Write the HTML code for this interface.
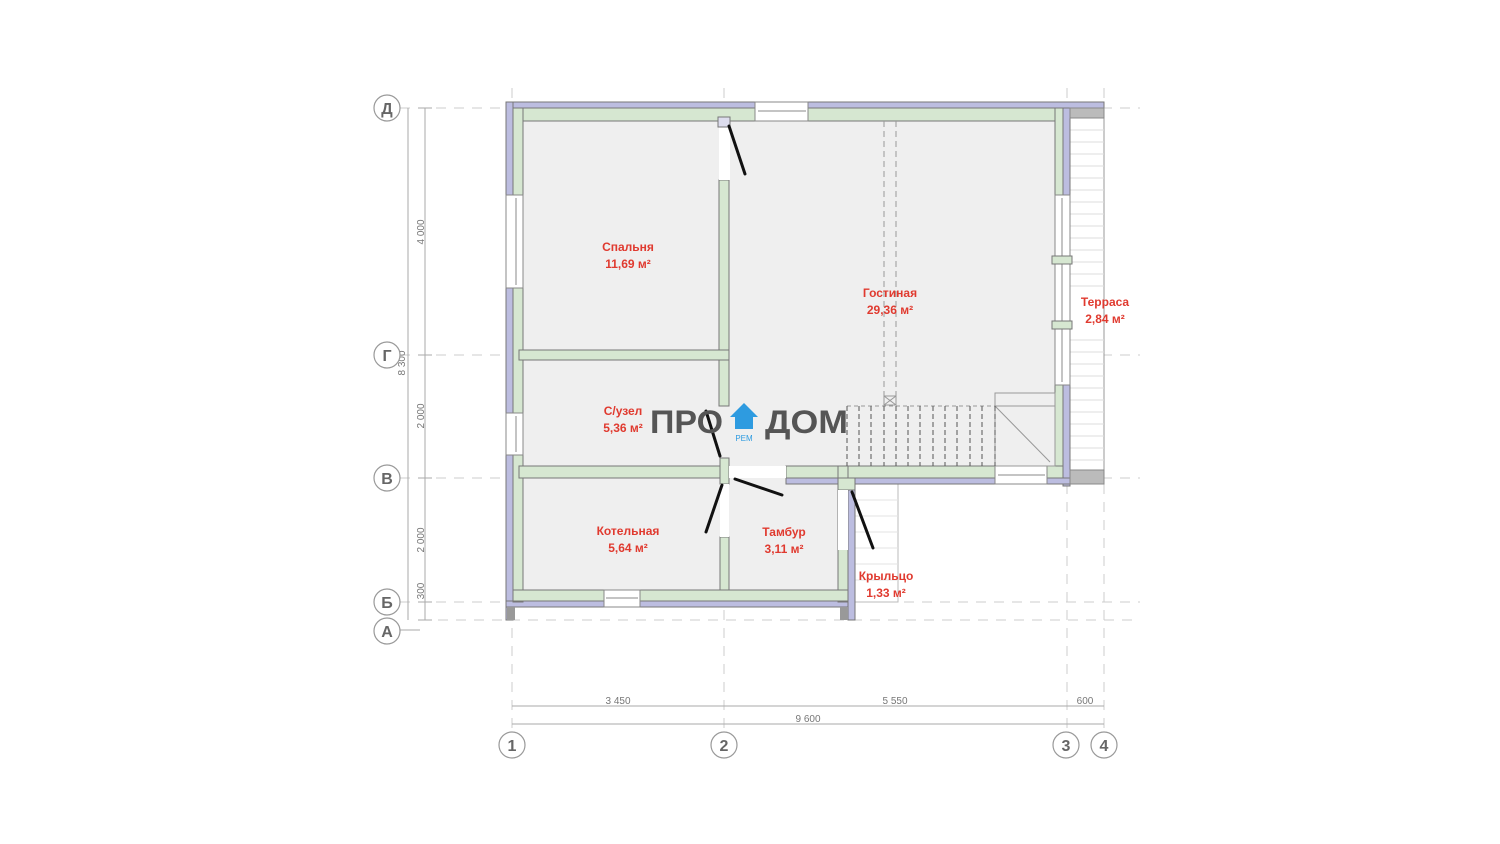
<!DOCTYPE html>
<html><head><meta charset="utf-8"><style>
html,body{margin:0;padding:0;background:#fff;}
svg{display:block;font-family:"Liberation Sans",sans-serif;}
.lbl{fill:#e03a2f;font-weight:bold;font-size:12px;text-anchor:middle;}
.dim{fill:#777;font-size:10px;text-anchor:middle;}
.ax{fill:#fff;stroke:#999;stroke-width:1.2;}
.axt{fill:#666;font-size:16px;font-weight:bold;text-anchor:middle;}
.g{fill:#d6e7d1;stroke:#777;stroke-width:1;}
.p{fill:#bcbde0;stroke:#777;stroke-width:1;}
.win{fill:#fff;stroke:#888;stroke-width:1;}
</style></head><body>
<svg width="1500" height="844" viewBox="0 0 1500 844" xmlns="http://www.w3.org/2000/svg">
<g stroke="#ccc" stroke-width="1" stroke-dasharray="10,8" fill="none">
<line x1="400" y1="108" x2="1140" y2="108"/>
<line x1="400" y1="355" x2="1140" y2="355"/>
<line x1="400" y1="478" x2="1140" y2="478"/>
<line x1="400" y1="602" x2="1140" y2="602"/>
<line x1="420" y1="620" x2="1140" y2="620"/>
<line x1="512" y1="88" x2="512" y2="735"/>
<line x1="724" y1="88" x2="724" y2="735"/>
<line x1="1067" y1="88" x2="1067" y2="735"/>
<line x1="1104" y1="88" x2="1104" y2="735"/>
</g>
<rect x="512" y="108" width="555" height="370" fill="#efefef"/>
<rect x="512" y="478" width="330" height="124" fill="#efefef"/>
<rect x="1070" y="118" width="34" height="360" fill="#fff" stroke="#999"/>
<g stroke="#ddd" stroke-width="1">
<line x1="1070" y1="130" x2="1104" y2="130"/><line x1="1070" y1="142" x2="1104" y2="142"/><line x1="1070" y1="154" x2="1104" y2="154"/><line x1="1070" y1="166" x2="1104" y2="166"/><line x1="1070" y1="178" x2="1104" y2="178"/><line x1="1070" y1="190" x2="1104" y2="190"/><line x1="1070" y1="202" x2="1104" y2="202"/><line x1="1070" y1="214" x2="1104" y2="214"/><line x1="1070" y1="226" x2="1104" y2="226"/><line x1="1070" y1="238" x2="1104" y2="238"/><line x1="1070" y1="250" x2="1104" y2="250"/><line x1="1070" y1="262" x2="1104" y2="262"/><line x1="1070" y1="274" x2="1104" y2="274"/><line x1="1070" y1="286" x2="1104" y2="286"/><line x1="1070" y1="340" x2="1104" y2="340"/><line x1="1070" y1="352" x2="1104" y2="352"/><line x1="1070" y1="364" x2="1104" y2="364"/><line x1="1070" y1="376" x2="1104" y2="376"/><line x1="1070" y1="388" x2="1104" y2="388"/><line x1="1070" y1="400" x2="1104" y2="400"/><line x1="1070" y1="412" x2="1104" y2="412"/><line x1="1070" y1="424" x2="1104" y2="424"/><line x1="1070" y1="436" x2="1104" y2="436"/><line x1="1070" y1="448" x2="1104" y2="448"/><line x1="1070" y1="460" x2="1104" y2="460"/>
</g>
<rect x="855" y="484" width="43" height="118" fill="#fff" stroke="#bbb"/>
<g stroke="#e3e3e3"><line x1="855" y1="500" x2="898" y2="500"/><line x1="855" y1="516" x2="898" y2="516"/><line x1="855" y1="532" x2="898" y2="532"/><line x1="855" y1="548" x2="898" y2="548"/><line x1="855" y1="564" x2="898" y2="564"/><line x1="855" y1="580" x2="898" y2="580"/></g>
<rect class="p" x="506" y="102" width="598" height="6"/>
<rect class="p" x="506" y="102" width="7" height="518"/>
<rect class="p" x="1063" y="108" width="7" height="378"/>
<rect class="p" x="786" y="478" width="318" height="6"/>
<rect class="p" x="506" y="601" width="349" height="6"/>
<rect class="p" x="848" y="484" width="7" height="136"/>
<rect x="1070" y="108" width="34" height="10" fill="#bbb" stroke="#888"/>
<rect x="1070" y="470" width="34" height="14" fill="#bbb" stroke="#888"/>
<rect class="g" x="513" y="108" width="550" height="13"/>
<rect class="g" x="513" y="108" width="10" height="494"/>
<rect class="g" x="1055" y="108" width="8" height="370"/>
<rect class="g" x="786" y="466" width="277" height="12"/>
<rect class="g" x="838" y="466" width="10" height="136"/>
<rect class="g" x="513" y="590" width="335" height="11"/>
<rect x="507" y="607" width="8" height="13" fill="#999"/>
<rect x="840" y="607" width="8" height="13" fill="#999"/>
<rect class="g" x="719" y="180" width="10" height="226"/>
<rect class="g" x="519" y="350" width="210" height="10"/>
<rect class="g" x="519" y="466" width="210" height="12"/>
<rect class="g" x="720" y="537" width="9" height="53"/>
<rect class="g" x="720" y="458" width="9" height="26"/>
<rect class="g" x="838" y="478" width="17" height="12"/>
<rect class="win" x="755" y="102" width="53" height="19"/>
<line x1="758" y1="111" x2="806" y2="111" stroke="#888"/>
<rect class="win" x="506" y="195" width="17" height="93"/>
<line x1="516" y1="198" x2="516" y2="285" stroke="#888"/>
<rect class="win" x="506" y="413" width="17" height="42"/>
<line x1="516" y1="416" x2="516" y2="452" stroke="#888"/>
<rect class="win" x="1055" y="195" width="15" height="190"/>
<line x1="1062" y1="198" x2="1062" y2="382" stroke="#888"/>
<rect class="g" x="1052" y="256" width="20" height="8"/>
<rect class="g" x="1052" y="321" width="20" height="8"/>
<rect class="win" x="604" y="590" width="36" height="17"/>
<line x1="606" y1="598" x2="638" y2="598" stroke="#888"/>
<rect class="win" x="995" y="466" width="52" height="18"/>
<line x1="998" y1="475" x2="1045" y2="475" stroke="#888"/>
<rect x="719" y="121" width="11" height="59" fill="#fff"/>
<rect x="718" y="117" width="12" height="10" fill="#dde" stroke="#777"/>
<rect x="729" y="466" width="57" height="12" fill="#fff"/>
<rect x="720" y="484" width="9" height="53" fill="#fff"/>
<rect x="838" y="490" width="10" height="60" fill="#fff"/>
<g stroke="#111" stroke-width="3" stroke-linecap="round">
<line x1="729" y1="126" x2="745" y2="174"/>
<line x1="706" y1="411" x2="720" y2="456"/>
<line x1="735" y1="479" x2="782" y2="495"/>
<line x1="722" y1="485" x2="706" y2="532"/>
<line x1="852" y1="492" x2="873" y2="548"/>
</g>
<g stroke="#999" stroke-width="1" fill="none">
<line x1="884" y1="121" x2="884" y2="405" stroke-dasharray="6,4"/>
<line x1="896" y1="121" x2="896" y2="405" stroke-dasharray="6,4"/>
<rect x="884" y="396" width="12" height="9"/>
<line x1="884" y1="396" x2="896" y2="405"/><line x1="896" y1="396" x2="884" y2="405"/>
<line x1="847" y1="406" x2="995" y2="406" stroke-dasharray="4,3"/>
<rect x="995" y="393" width="60" height="73"/>
<line x1="995" y1="406" x2="1055" y2="406"/>
<line x1="995" y1="406" x2="1050" y2="462"/>
</g>
<g stroke="#555" stroke-width="1" stroke-dasharray="5,3">
<line x1="847" y1="406" x2="847" y2="466"/><line x1="859" y1="406" x2="859" y2="466"/><line x1="871" y1="406" x2="871" y2="466"/><line x1="884" y1="406" x2="884" y2="466"/><line x1="896" y1="406" x2="896" y2="466"/><line x1="908" y1="406" x2="908" y2="466"/><line x1="920" y1="406" x2="920" y2="466"/><line x1="933" y1="406" x2="933" y2="466"/><line x1="945" y1="406" x2="945" y2="466"/><line x1="957" y1="406" x2="957" y2="466"/><line x1="970" y1="406" x2="970" y2="466"/><line x1="982" y1="406" x2="982" y2="466"/><line x1="995" y1="406" x2="995" y2="466"/>
</g>
<text x="650" y="433" font-size="32" font-weight="bold" fill="#555" textLength="73" lengthAdjust="spacingAndGlyphs">ПРО</text>
<text x="765" y="433" font-size="32" font-weight="bold" fill="#555" textLength="83" lengthAdjust="spacingAndGlyphs">ДОМ</text>
<polygon points="744,403 730,417 735,417 735,429 753,429 753,417 758,417" fill="#2e9be0"/>
<text x="744" y="441" font-size="8" fill="#2e9be0" text-anchor="middle">РЕМ</text>
<text class="lbl" x="628" y="251">Спальня</text><text class="lbl" x="628" y="268">11,69 м²</text>
<text class="lbl" x="890" y="297">Гостиная</text><text class="lbl" x="890" y="314">29,36 м²</text>
<text class="lbl" x="1105" y="306">Терраса</text><text class="lbl" x="1105" y="323">2,84 м²</text>
<text class="lbl" x="623" y="415">С/узел</text><text class="lbl" x="623" y="432">5,36 м²</text>
<text class="lbl" x="628" y="535">Котельная</text><text class="lbl" x="628" y="552">5,64 м²</text>
<text class="lbl" x="784" y="536">Тамбур</text><text class="lbl" x="784" y="553">3,11 м²</text>
<text class="lbl" x="886" y="580">Крыльцо</text><text class="lbl" x="886" y="597">1,33 м²</text>
<g stroke="#aaa" stroke-width="1" fill="none">
<line x1="425" y1="108" x2="425" y2="620"/>
<line x1="408" y1="108" x2="408" y2="620"/>
<line x1="418" y1="108" x2="432" y2="108"/><line x1="418" y1="355" x2="432" y2="355"/><line x1="418" y1="478" x2="432" y2="478"/><line x1="418" y1="602" x2="432" y2="602"/><line x1="418" y1="620" x2="432" y2="620"/>
<line x1="512" y1="706" x2="1104" y2="706"/>
<line x1="512" y1="724" x2="1104" y2="724"/>
<line x1="400" y1="630" x2="420" y2="630"/>
</g>
<text class="dim" transform="translate(424,232) rotate(-90)">4 000</text>
<text class="dim" transform="translate(405,363) rotate(-90)">8 300</text>
<text class="dim" transform="translate(424,416) rotate(-90)">2 000</text>
<text class="dim" transform="translate(424,540) rotate(-90)">2 000</text>
<text class="dim" transform="translate(424,591) rotate(-90)">300</text>
<text class="dim" x="618" y="704">3 450</text>
<text class="dim" x="895" y="704">5 550</text>
<text class="dim" x="1085" y="704">600</text>
<text class="dim" x="808" y="722">9 600</text>
<circle class="ax" cx="387" cy="108" r="13"/><text class="axt" x="387" y="114">Д</text>
<circle class="ax" cx="387" cy="355" r="13"/><text class="axt" x="387" y="361">Г</text>
<circle class="ax" cx="387" cy="478" r="13"/><text class="axt" x="387" y="484">В</text>
<circle class="ax" cx="387" cy="602" r="13"/><text class="axt" x="387" y="608">Б</text>
<circle class="ax" cx="387" cy="631" r="13"/><text class="axt" x="387" y="637">А</text>
<circle class="ax" cx="512" cy="745" r="13"/><text class="axt" x="512" y="751">1</text>
<circle class="ax" cx="724" cy="745" r="13"/><text class="axt" x="724" y="751">2</text>
<circle class="ax" cx="1066" cy="745" r="13"/><text class="axt" x="1066" y="751">3</text>
<circle class="ax" cx="1104" cy="745" r="13"/><text class="axt" x="1104" y="751">4</text>
</svg>
</body></html>
